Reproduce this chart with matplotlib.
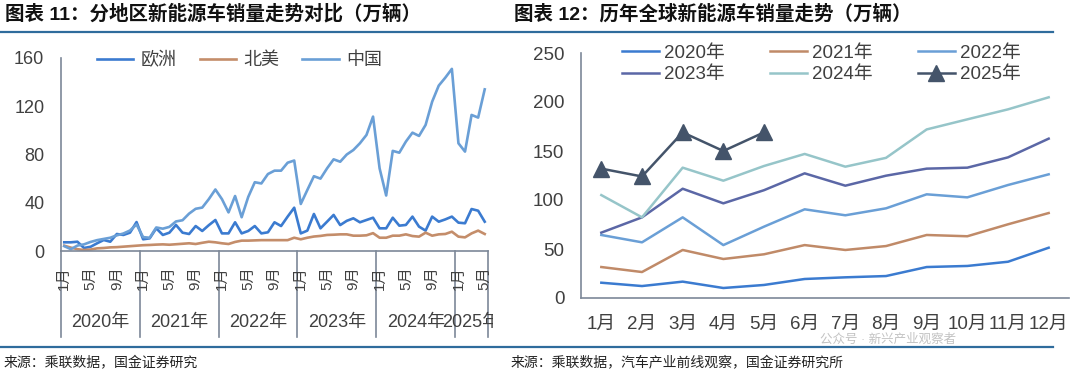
import numpy as np
import matplotlib
matplotlib.use('Agg')
import matplotlib.pyplot as plt
import matplotlib.transforms as mtrans
from matplotlib.lines import Line2D

plt.rcParams['font.family'] = ['Liberation Sans', 'Noto Sans CJK SC', 'DejaVu Sans']

# ---- left chart: monthly NEV sales by region, Jan 2020 - May 2025 (万辆)
years = ['2020年', '2021年', '2022年', '2023年', '2024年', '2025年']
months_per_year = [12, 12, 12, 12, 12, 5]
month_ticks = ['1月', '5月', '9月']   # shown at month 1, 5, 9 of each year

europe = [7.2, 7.2, 7.7, 2.5, 3.5, 6.4, 9.1, 7.7, 14.1, 13.3, 15.2, 24.0,
          9.7, 10.5, 18.8, 13.3, 15.2, 21.6, 15.2, 14.1, 20.7, 16.6, 21.4, 25.7,
          14.6, 14.6, 23.8, 14.6, 16.6, 20.7, 14.6, 15.5, 23.8, 20.7, 28.5, 35.9,
          14.6, 16.9, 30.7, 18.8, 24.3, 29.9, 21.5, 25.0, 27.1, 23.8, 25.7, 27.6,
          18.8, 18.8, 27.6, 21.0, 21.6, 28.5, 20.2, 16.9, 28.5, 24.3, 26.2, 28.5,
          23.5, 23.0, 34.8, 33.4, 24.3]
north_america = [4.4, 2.8, 1.5, 0.8, 1.2, 2.2, 2.5, 3.0, 3.2, 3.6, 4.0, 4.4,
                 4.8, 5.0, 5.3, 5.5, 5.2, 5.6, 6.0, 6.4, 5.8, 6.8, 7.7, 7.2,
                 6.4, 5.8, 7.5, 8.6, 8.6, 8.8, 9.0, 9.0, 9.0, 9.0, 9.0, 11.0,
                 9.7, 11.0, 12.0, 12.5, 13.3, 13.5, 13.8, 13.8, 12.7, 12.7, 13.0, 14.8,
                 11.0, 11.0, 12.7, 12.7, 13.8, 12.4, 11.9, 15.2, 12.7, 13.8, 14.1, 16.0,
                 11.9, 11.3, 14.6, 16.9, 14.1]
china = [4.0, 1.5, 4.5, 5.5, 7.5, 9.0, 10.0, 11.0, 13.0, 14.5, 17.0, 22.0,
         11.5, 11.0, 19.5, 18.5, 20.0, 24.5, 25.5, 31.0, 35.0, 36.0, 43.0, 51.0,
         43.0, 32.0, 45.6, 28.0, 44.8, 57.0, 56.0, 63.8, 66.6, 66.6, 73.2, 75.0,
         39.0, 50.6, 62.0, 60.0, 68.5, 76.0, 74.0, 80.0, 83.7, 89.3, 96.2, 111.4,
         68.5, 46.0, 83.0, 81.5, 90.7, 98.1, 95.4, 104.5, 123.8, 137.1, 143.7, 151.0,
         89.3, 82.4, 112.8, 110.6, 134.0]

# ---- right chart: global NEV sales by month, per year (万辆)
month_labels = ['1月', '2月', '3月', '4月', '5月', '6月',
                '7月', '8月', '9月', '10月', '11月', '12月']
global_2020 = [15.6, 12.2, 16.7, 10.2, 13.3, 19.4, 21.1, 22.4, 31.6, 32.7, 37.0, 51.3]
global_2021 = [31.6, 26.5, 49.0, 39.8, 44.6, 54.0, 49.0, 53.0, 64.3, 63.0, 75.2, 86.7]
global_2022 = [64.3, 56.8, 82.3, 54.0, 72.8, 90.5, 84.4, 91.5, 105.8, 102.7, 115.3, 126.2]
global_2023 = [66.7, 82.3, 111.5, 96.6, 110.0, 127.2, 114.6, 124.8, 132.0, 133.0, 143.5, 162.6]
global_2024 = [105.0, 82.3, 133.0, 119.7, 134.7, 147.0, 134.0, 143.0, 172.0, 182.3, 192.5, 204.8]
global_2025 = [132.0, 124.0, 169.0, 150.0, 169.0]

W, H = 1080, 376
fig = plt.figure(figsize=(W / 100, H / 100), dpi=100)
spine_c = '#7d8898'
txt_c = '#404040'

# ---------------- left chart
ax1 = fig.add_axes([61 / W, 1 - 251 / H, 427 / W, 193 / H])
x = np.arange(len(china))
ax1.plot(x, europe, color='#3b7bd0', lw=1.9, label='欧洲')
ax1.plot(x, north_america, color='#c48d6a', lw=1.9, label='北美')
ax1.plot(x, china, color='#6a9fd6', lw=1.9, label='中国')
ax1.set_xlim(-0.5, len(china) - 0.5)
ax1.set_ylim(0, 160)
ax1.set_yticks([0, 40, 80, 120, 160])
ax1.set_xticks([])
ax1.tick_params(axis='y', length=0, pad=12, labelsize=13, labelcolor=txt_c)
for s in ['top', 'right']:
    ax1.spines[s].set_visible(False)
for s in ['left', 'bottom']:
    ax1.spines[s].set_color(spine_c)
    ax1.spines[s].set_linewidth(1.2)

# two-level category axis: months, then years, split by vertical rules
trans = mtrans.blended_transform_factory(ax1.transData, ax1.transAxes)
bounds = np.concatenate([[0], np.cumsum(months_per_year)]) - 0.5
for b in bounds:
    ax1.plot([b, b], [0, -0.445], transform=trans, clip_on=False, color=spine_c, lw=1.2)
for k, yl in enumerate(years):
    start = bounds[k] + 0.5
    for j, ml in enumerate(month_ticks):
        idx = j * 4
        if idx < months_per_year[k]:
            ax1.text(start + idx, -0.08, ml, rotation=90, ha='center', va='top',
                     fontsize=11, color=txt_c, transform=trans)
    t = ax1.text((bounds[k] + bounds[k + 1]) / 2, -0.368, yl, ha='center', va='center',
                 fontsize=13, color=txt_c, transform=trans)
    t.set_clip_on(True)
    t.set_clip_box(mtrans.Bbox([[0, 0], [493, H]]))

leg1 = ax1.legend(loc='upper left', bbox_to_anchor=(0.084, 1.03), ncol=3, frameon=False,
                  fontsize=13, handlelength=2.0, handletextpad=0.4, columnspacing=1.3,
                  borderpad=0, borderaxespad=0)
for t in leg1.get_texts():
    t.set_color(txt_c)

# ---------------- right chart
ax2 = fig.add_axes([581 / W, 1 - 298 / H, 488 / W, 245 / H])
x2 = np.arange(len(month_labels))
series = [global_2020, global_2021, global_2022, global_2023, global_2024, global_2025]
names = ['2020年', '2021年', '2022年', '2023年', '2024年', '2025年']
colors = ['#3b7bd0', '#c08a68', '#6a9fd6', '#5b67a6', '#96c5c9', '#44546a']
handles = []
for s, nm, c in zip(series, names, colors):
    if nm == '2025年':
        h, = ax2.plot(x2[:len(s)], s, color=c, lw=1.8, marker='^', markersize=11, label=nm)
    else:
        h, = ax2.plot(x2[:len(s)], s, color=c, lw=1.8, label=nm)
    handles.append(h)
ax2.set_xlim(-0.5, 11.5)
ax2.set_ylim(0, 250)
ax2.set_yticks(np.arange(0, 251, 50))
ax2.set_xticks(x2)
ax2.set_xticklabels(month_labels)
ax2.tick_params(axis='both', length=0, labelsize=13.5, labelcolor=txt_c)
ax2.tick_params(axis='y', pad=12)
ax2.tick_params(axis='x', pad=13)
for s in ['top', 'right']:
    ax2.spines[s].set_visible(False)
for s in ['left', 'bottom']:
    ax2.spines[s].set_color(spine_c)
    ax2.spines[s].set_linewidth(1.2)

# legend laid out row-wise: 2020 2021 2022 / 2023 2024 2025
order = [0, 3, 1, 4, 2, 5]
leg2 = ax2.legend([handles[i] for i in order], [names[i] for i in order],
                  loc='upper left', bbox_to_anchor=(0.084, 1.035), ncol=3, frameon=False,
                  fontsize=13.5, handlelength=2.0, handletextpad=0.25, columnspacing=2.4,
                  labelspacing=0.25, borderpad=0, borderaxespad=0)
for t in leg2.get_texts():
    t.set_color(txt_c)

# ---------------- titles, rules, sources
rule_c = '#2f6c9c'
fig.add_artist(Line2D([0, 1053 / W], [1 - 31.5 / H] * 2, color=rule_c, lw=1.6))
fig.add_artist(Line2D([0, 1053 / W], [1 - 346.5 / H] * 2, color=rule_c, lw=1.6))
fig.text(5 / W, 1 - 14 / H, '图表 11：分地区新能源车销量走势对比（万辆）', fontsize=14,
         fontweight='bold', color='#111111', va='center', ha='left')
fig.text(514 / W, 1 - 14 / H, '图表 12：历年全球新能源车销量走势（万辆）', fontsize=14,
         fontweight='bold', color='#111111', va='center', ha='left')
fig.text(4 / W, 1 - 363 / H, '来源：乘联数据，国金证券研究', fontsize=10,
         color='#222222', va='center', ha='left')
fig.text(511 / W, 1 - 363 / H, '来源：乘联数据，汽车产业前线观察，国金证券研究所', fontsize=10,
         color='#222222', va='center', ha='left')
# watermark, kept faint in the gap between month labels and the bottom rule
fig.text(820 / W, 1 - 339.5 / H, '公众号 · 新兴产业观察者', fontsize=9,
         color='#9a9a9a', alpha=0.6, va='center', ha='left')

fig.savefig('out.png', dpi=100)
